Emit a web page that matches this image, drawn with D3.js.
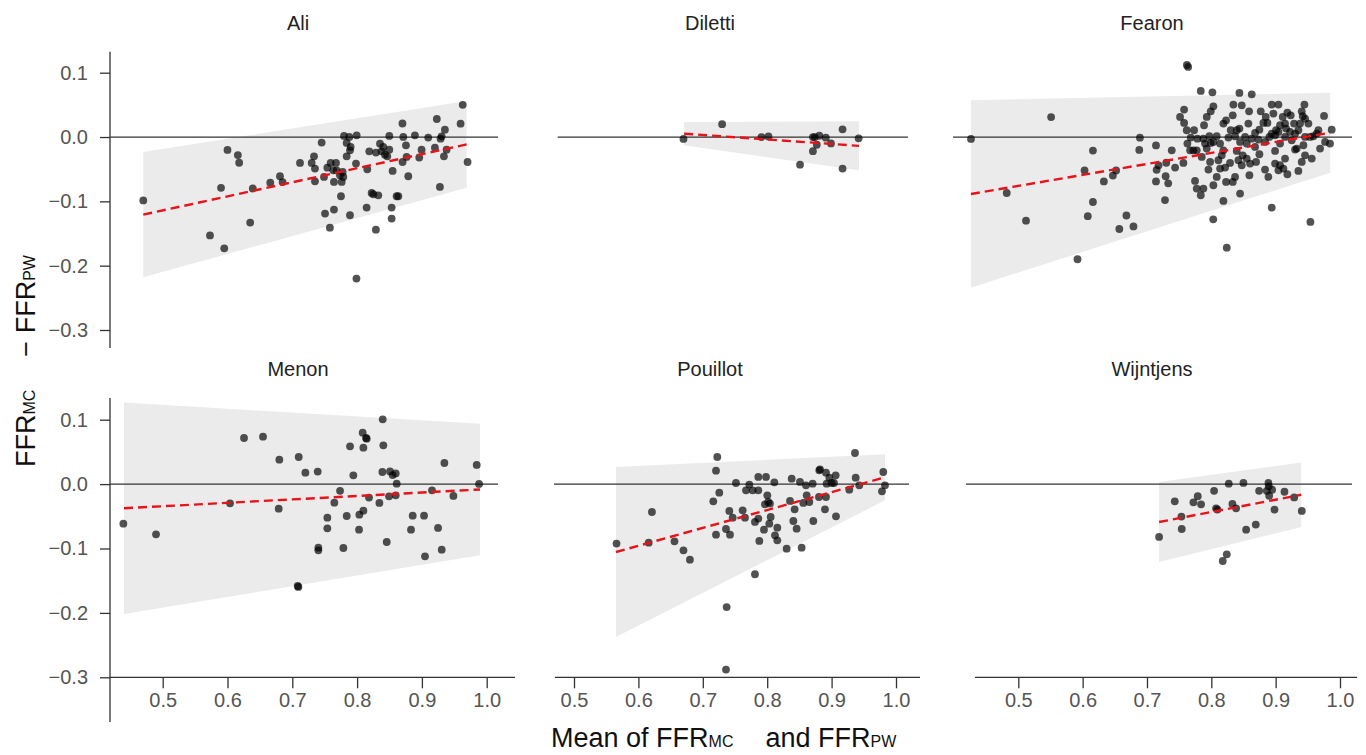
<!DOCTYPE html>
<html>
<head>
<meta charset="utf-8">
<script src="https://cdn.jsdelivr.net/npm/d3@7"></script>
<style>
  html, body { margin: 0; padding: 0; background: #fff; }
  svg { display: block; font-family: "Liberation Sans", Arial, Helvetica, sans-serif; }
</style>
</head>
<body>
<svg id="chart" width="1366" height="755"></svg>
<script>
// ---------------- DATA ----------------
const studies = ["Ali", "Diletti", "Fearon", "Menon", "Pouillot", "Wijntjens"];
const xTicks = [0.5, 0.6, 0.7, 0.8, 0.9, 1.0];
const yTicks = [0.1, 0.0, -0.1, -0.2, -0.3];

// [mean of FFR_MC and FFR_PW, FFR_MC - FFR_PW]
const aliPoints = [
  [0.470,-0.0985],[0.573,-0.153],[0.595,-0.173],[0.590,-0.079],[0.600,-0.020],[0.616,-0.028],
  [0.618,-0.040],[0.635,-0.133],[0.639,-0.080],[0.666,-0.071],[0.681,-0.061],[0.685,-0.070],
  [0.758,-0.141],[0.799,-0.220],[0.829,-0.144],[0.870,0.021],[0.923,0.028],[0.963,0.050],
  [0.7119,-0.0403],[0.7299,-0.0403],[0.7335,-0.0300],[0.7350,-0.0491],[0.7350,-0.0688],[0.7453,-0.0087],
  [0.7489,-0.0621],[0.7541,-0.0476],[0.7592,-0.0403],[0.7633,-0.0517],[0.7643,-0.0698],[0.7674,-0.0403],
  [0.7684,-0.0517],[0.7736,-0.0595],[0.7777,-0.0543],[0.7762,-0.0698],[0.7787,-0.0621],[0.7751,-0.0921],
  [0.7798,0.0017],[0.7839,-0.0092],[0.7880,0.0001],[0.7900,-0.0154],[0.7890,-0.0206],[0.7839,-0.0300],
  [0.7993,0.0027],[0.7983,-0.0413],[0.8157,-0.0501],[0.8188,-0.0222],[0.8250,-0.0890],[0.8224,-0.0869],
  [0.8327,-0.0906],[0.8291,-0.0242],[0.8353,-0.0103],[0.8404,-0.0154],[0.8378,-0.0222],[0.8430,-0.0274],
  [0.8466,-0.0300],[0.8497,0.0017],[0.8497,-0.0196],[0.8548,-0.0527],[0.8610,-0.0921],[0.8713,0.0001],
  [0.8754,-0.0129],[0.8764,-0.0310],[0.8702,-0.0388],[0.8790,-0.0610],[0.8892,0.0027],[0.8959,-0.0320],
  [0.8995,-0.0196],[0.9098,-0.0009],[0.9201,-0.0165],[0.9288,-0.0025],[0.9304,0.0011],[0.9340,-0.0300],
  [0.9355,0.0115],[0.9381,-0.0196],[0.9278,-0.0776],[0.9597,0.0208],[0.9705,-0.0388],[0.7505,-0.1190],
  [0.7643,-0.1128],[0.7890,-0.1216],[0.8147,-0.1097],[0.8533,-0.1097],[0.8533,-0.1268],[0.8636,-0.0921]
];
const dilettiPoints = [
  [0.670,-0.003],[0.730,0.020],[0.791,0.000],[0.802,0.001],[0.851,-0.043],[0.871,0.000],
  [0.874,0.000],[0.871,-0.022],[0.877,-0.012],[0.881,0.002],[0.891,-0.001],[0.899,-0.010],
  [0.917,0.012],[0.917,-0.049],[0.942,-0.002]
];
const fearonPoints = [
  [0.4265,-0.003],[0.482,-0.087],[0.512,-0.130],[0.551,0.031],[0.592,-0.190],[0.603,-0.052],
  [0.608,-0.123],[0.616,-0.021],[0.616,-0.101],[0.633,-0.069],[0.647,-0.060],[0.652,-0.052],
  [0.657,-0.143],[0.668,-0.122],[0.679,-0.139],[0.688,-0.020],[0.689,-0.001],[0.714,-0.013],
  [0.714,-0.069],[0.715,-0.051],[0.718,-0.044],[0.728,-0.098],[0.729,-0.061],[0.730,-0.040],
  [0.733,-0.072],[0.762,0.112],[0.764,0.109],[0.803,-0.128],[0.824,-0.172],[0.954,-0.132],
  [0.7836,0.0716],[0.8017,0.0695],[0.8437,0.0685],[0.8628,0.0664],[0.7577,0.0426],[0.7514,0.0312],
  [0.7577,0.0219],[0.7618,0.0105],[0.7732,0.0105],[0.8032,0.0478],[0.7991,0.0400],[0.7929,0.0312],
  [0.7887,0.0183],[0.8343,0.0504],[0.8473,0.0493],[0.8587,0.0400],[0.8333,0.0338],[0.8229,0.0260],
  [0.8188,0.0209],[0.8302,0.0105],[0.8395,0.0105],[0.8437,0.0131],[0.8576,0.0209],[0.8768,0.0400],
  [0.8846,0.0312],[0.8809,0.0219],[0.8872,0.0219],[0.8747,0.0115],[0.8680,0.0064],[0.8939,0.0504],
  [0.9043,0.0504],[0.8965,0.0364],[0.9110,0.0312],[0.9068,0.0183],[0.9006,0.0105],[0.8939,0.0053],
  [0.9043,0.0079],[0.9182,0.0380],[0.9234,0.0338],[0.9286,0.0209],[0.9146,0.0209],[0.9162,0.0131],
  [0.9224,0.0079],[0.9405,0.0400],[0.9447,0.0504],[0.9421,0.0323],[0.9457,0.0286],[0.9379,0.0209],
  [0.9509,0.0209],[0.9353,0.0105],[0.9752,0.0328],[0.9664,0.0105],[0.9586,0.0012],
  [0.7628,-0.0102],[0.7680,-0.0009],[0.7784,-0.0025],[0.7877,-0.0025],[0.7970,0.0012],[0.8084,0.0012],
  [0.8032,-0.0076],[0.7903,-0.0102],[0.7991,-0.0092],[0.7929,-0.0180],[0.8136,-0.0102],[0.8188,-0.0206],
  [0.8266,-0.0009],[0.8369,0.0012],[0.8447,-0.0076],[0.8525,0.0001],[0.8550,-0.0102],[0.8628,-0.0025],
  [0.8680,-0.0154],[0.8732,-0.0040],[0.8835,-0.0076],[0.8903,0.0001],[0.8991,0.0027],[0.9068,-0.0102],
  [0.9146,0.0001],[0.9250,-0.0050],[0.9302,0.0053],[0.9327,-0.0180],[0.9431,-0.0128],[0.9457,0.0001],
  [0.9535,0.0001],[0.9638,0.0053],[0.9768,-0.0076],[0.9690,-0.0180],[0.9845,-0.0102],[0.9871,0.0115],
  [0.7385,-0.0206],[0.7437,-0.0475],[0.7566,-0.0403],[0.7670,-0.0206],[0.7722,-0.0206],[0.7773,-0.0206],
  [0.7851,-0.0310],[0.7981,-0.0387],[0.7955,-0.0506],[0.8110,-0.0361],[0.8162,-0.0284],[0.8136,-0.0491],
  [0.8214,-0.0475],[0.8291,-0.0403],[0.8395,-0.0216],[0.8421,-0.0361],[0.8473,-0.0439],[0.8488,-0.0284],
  [0.8550,-0.0335],[0.8602,-0.0413],[0.8695,-0.0387],[0.8747,-0.0268],[0.8835,-0.0506],[0.8887,-0.0620],
  [0.8991,-0.0216],[0.8991,-0.0413],[0.9068,-0.0439],[0.9146,-0.0335],[0.9043,-0.0517],[0.9120,-0.0491],
  [0.9182,-0.0579],[0.9302,-0.0195],[0.9405,-0.0387],[0.9457,-0.0284],[0.9561,-0.0335],[0.9353,-0.0527],
  [0.8084,-0.0620],[0.8032,-0.0750],[0.7747,-0.0682],[0.7773,-0.0802],[0.7836,-0.0905],[0.7877,-0.0802],
  [0.8229,-0.0698],[0.8333,-0.0698],[0.8369,-0.0620],[0.8592,-0.0594],[0.8447,-0.0879],[0.8188,-0.0993],
  [0.8939,-0.1097]
];
const menonPoints = [
  [0.4393,-0.0614],[0.4897,-0.0780],[0.6039,-0.0298],[0.6255,0.0716],[0.6548,0.0737],[0.6800,0.0380],
  [0.6790,-0.0381],[0.7099,0.0421],[0.7083,-0.1582],[0.7094,-0.1597],[0.7202,0.0178],[0.7392,0.0194],
  [0.7402,-0.0987],[0.7402,-0.1028],[0.7541,-0.0521],[0.7541,-0.0686],[0.7649,-0.0288],[0.7737,-0.0104],
  [0.7788,-0.0992],[0.7840,-0.0495],[0.7891,0.0587],[0.7942,0.0137],[0.8030,-0.0707],[0.8035,-0.0474],
  [0.8097,-0.0412],[0.8086,0.0799],[0.8097,0.0566],[0.8138,0.0716],[0.8148,0.0706],[0.8184,-0.0210],
  [0.8344,-0.0293],[0.8395,0.1006],[0.8405,0.0602],[0.8390,0.0188],[0.8457,-0.0899],[0.8493,-0.0190],
  [0.8508,0.0197],[0.8549,0.0140],[0.8596,0.0166],[0.8611,0.0007],[0.8596,-0.0174],[0.8832,-0.0707],
  [0.8858,-0.0490],[0.9033,-0.0490],[0.9048,-0.1121],[0.9156,-0.0096],[0.9249,-0.0681],[0.9306,-0.1018],
  [0.9347,0.0328],[0.9486,-0.0184],[0.9846,0.0297],[0.9882,0.0002]
];
const pouillotPoints = [
  [0.566,-0.0924],[0.616,-0.0909],[0.621,-0.0433],[0.656,-0.0888],[0.670,-0.1028],[0.680,-0.1173],
  [0.781,-0.140],[0.737,-0.191],[0.736,-0.288],
  [0.7225,0.0421],[0.7205,0.0209],[0.7256,-0.0133],[0.7163,-0.0267],[0.7412,-0.0417],[0.7360,-0.0697],
  [0.7205,-0.0785],[0.7422,-0.0785],[0.7464,-0.0521],[0.7515,0.0017],[0.7619,-0.0407],[0.7655,-0.0521],
  [0.7671,-0.0096],[0.7722,-0.0008],[0.7774,-0.0096],[0.7862,-0.0096],[0.7862,0.0111],[0.7981,0.0111],
  [0.7862,-0.0536],[0.7810,-0.0588],[0.7950,-0.0707],[0.8033,-0.0614],[0.8054,-0.0510],[0.8002,-0.0174],
  [0.8017,-0.0278],[0.7966,-0.0314],[0.8043,-0.0303],[0.8111,0.0028],[0.8157,-0.0676],[0.8121,-0.0795],
  [0.8157,-0.0873],[0.7878,-0.0883],[0.8302,-0.1002],[0.8354,-0.0262],[0.8380,0.0085],[0.8426,-0.0391],
  [0.8406,-0.0573],[0.8457,-0.0692],[0.8509,0.0033],[0.8535,-0.0987],[0.8561,-0.0293],[0.8602,-0.0019],
  [0.8613,-0.0174],[0.8654,-0.0278],[0.8706,0.0007],[0.8716,-0.0573],[0.8804,-0.0200],[0.8809,0.0214],
  [0.8820,0.0230],[0.8897,-0.0391],[0.8913,0.0178],[0.8923,0.0007],[0.8913,-0.0200],[0.8965,0.0100],
  [0.9001,0.0017],[0.9037,0.0017],[0.9063,0.0137],[0.9068,-0.0500],[0.9275,-0.0086],[0.9363,0.0483],
  [0.9374,0.0100],[0.9430,-0.0019],[0.9803,0.0188],[0.9829,-0.0019],[0.9782,-0.0112]
];
const wijntjensPoints = [
  [0.7188,-0.0821],[0.7432,-0.0267],[0.7535,-0.0505],[0.7540,-0.0697],[0.7722,-0.0283],[0.7789,-0.0189],
  [0.7841,-0.0314],[0.8043,-0.0104],[0.8074,-0.0376],[0.8095,-0.0396],[0.8178,-0.1194],[0.8240,-0.1090],
  [0.8271,0.0007],[0.8328,-0.0308],[0.8385,-0.0376],[0.8499,0.0018],[0.8541,-0.0707],[0.8691,-0.0629],
  [0.8743,-0.0104],[0.8862,-0.0104],[0.8888,0.0018],[0.8893,-0.0034],[0.8899,-0.0181],[0.8945,-0.0088],
  [0.8982,-0.0396],[0.9137,-0.0119],[0.9288,-0.0207],[0.9406,-0.0417]
];
const pointsByStudy = [aliPoints, dilettiPoints, fearonPoints, menonPoints, pouillotPoints, wijntjensPoints];

// Regression-based limits of agreement: [left, right] ends
const bandX     = [[0.470,0.969],[0.671,0.9425],[0.4264,0.9848],[0.4403,0.9897],[0.5652,0.9829],[0.7188,0.9397]];
const bandUpper = [[-0.0233,0.056],[0.0233,0.0244],[0.0571,0.069],[0.1266,0.0939],[0.0266,0.0463],[0.0033,0.0334]];
const bandLower = [[-0.218,-0.079],[-0.0129,-0.0518],[-0.2342,-0.0554],[-0.2017,-0.1106],[-0.2374,-0.0252],[-0.121,-0.0666]];

// ---------------- LAYOUT ----------------
const colXRange = [[162.7, 486.7], [574, 896], [1018.3, 1340]];   // pixel of x=0.5 and x=1.0
const rowYRange = [[72.7, 330], [419.7, 677.3]];                   // pixel of y=0.1 and y=-0.3
const zeroExtent = [[[110,498],[557.7,908],[953,1352]], [[110,498],[554,909],[966,1352]]];
const xAxisExtent = [[110,515],[555,920],[975,1357]];
const yAxisExtent = [[51.7,348],[398,722]];
const titleX = [298, 710, 1152];
const titleY = [29.5, 376];
const axisColor = "#333";
const tickTextColor = "#555";

const svg = d3.select("#chart");
const fmt = d3.format(".1f");

studies.forEach((name, i) => {
  const col = i % 3, row = Math.floor(i / 3);
  const x = d3.scaleLinear().domain([0.5, 1.0]).range(colXRange[col]);
  const y = d3.scaleLinear().domain([0.1, -0.3]).range(rowYRange[row]);
  const g = svg.append("g");

  // band
  const bx = bandX[i], bu = bandUpper[i], bl = bandLower[i];
  const poly = [[bx[0], bu[0]], [bx[1], bu[1]], [bx[1], bl[1]], [bx[0], bl[0]]];
  g.append("path")
    .attr("d", d3.line().x(d => x(d[0])).y(d => y(d[1]))(poly) + "Z")
    .attr("fill", "#ebebeb");

  // zero line
  const ze = zeroExtent[row][col];
  g.append("line")
    .attr("x1", ze[0]).attr("x2", ze[1])
    .attr("y1", y(0)).attr("y2", y(0))
    .attr("stroke", axisColor).attr("stroke-width", 1.3);

  // points
  g.append("g").selectAll("circle")
    .data(pointsByStudy[i])
    .join("circle")
    .attr("cx", d => x(d[0]))
    .attr("cy", d => y(d[1]))
    .attr("r", 3.9)
    .attr("fill", "#000")
    .attr("fill-opacity", 0.68);

  // regression (mean) line
  const mid = [[bx[0], (bu[0] + bl[0]) / 2], [bx[1], (bu[1] + bl[1]) / 2]];
  g.append("path")
    .attr("d", d3.line().x(d => x(d[0])).y(d => y(d[1]))(mid))
    .attr("fill", "none")
    .attr("stroke", "#e8131a")
    .attr("stroke-width", 2.4)
    .attr("stroke-dasharray", "9,5");

  // title
  svg.append("text")
    .attr("x", titleX[col]).attr("y", titleY[row])
    .attr("text-anchor", "middle")
    .attr("font-size", 20)
    .attr("fill", "#222")
    .text(name);

  // y axis (left column)
  if (col === 0) {
    const ya = g.append("g").attr("transform", "translate(110,0)")
      .call(d3.axisLeft(y).tickValues(yTicks).tickSize(10).tickPadding(12).tickFormat(fmt));
    ya.select(".domain").remove();
    ya.selectAll(".tick line").attr("stroke", axisColor).attr("stroke-width", 1.3);
    ya.selectAll(".tick text").attr("font-size", 20).attr("fill", tickTextColor)
      .attr("font-family", "Liberation Sans, Arial, sans-serif");
    g.append("line")
      .attr("x1", 110).attr("x2", 110)
      .attr("y1", yAxisExtent[row][0]).attr("y2", yAxisExtent[row][1])
      .attr("stroke", axisColor).attr("stroke-width", 1.3);
  }

  // x axis (bottom row)
  if (row === 1) {
    const y0 = y(-0.3);
    const xa = g.append("g").attr("transform", `translate(0,${y0})`)
      .call(d3.axisBottom(x).tickValues(xTicks).tickSize(11).tickPadding(5).tickFormat(fmt));
    xa.select(".domain").remove();
    xa.selectAll(".tick line").attr("stroke", axisColor).attr("stroke-width", 1.3);
    xa.selectAll(".tick text").attr("font-size", 20).attr("fill", tickTextColor)
      .attr("font-family", "Liberation Sans, Arial, sans-serif");
    g.append("line")
      .attr("x1", xAxisExtent[col][0]).attr("x2", xAxisExtent[col][1])
      .attr("y1", y0).attr("y2", y0)
      .attr("stroke", axisColor).attr("stroke-width", 1.3);
  }
});

// axis labels
const yl = svg.append("text")
  .attr("transform", "translate(35,467) rotate(-90)")
  .attr("font-size", 27).attr("fill", "#111");
yl.append("tspan").text("FFR");
yl.append("tspan").attr("font-size", 16).text("MC");
yl.append("tspan").attr("dx", 33).text("− FFR");
yl.append("tspan").attr("font-size", 16).text("PW");

const xl = svg.append("text")
  .attr("x", 551).attr("y", 747)
  .attr("font-size", 27).attr("fill", "#111");
xl.append("tspan").text("Mean of FFR");
xl.append("tspan").attr("font-size", 16).text("MC");
xl.append("tspan").attr("dx", 32).text("and FFR");
xl.append("tspan").attr("font-size", 16).text("PW");
</script>
</body>
</html>
